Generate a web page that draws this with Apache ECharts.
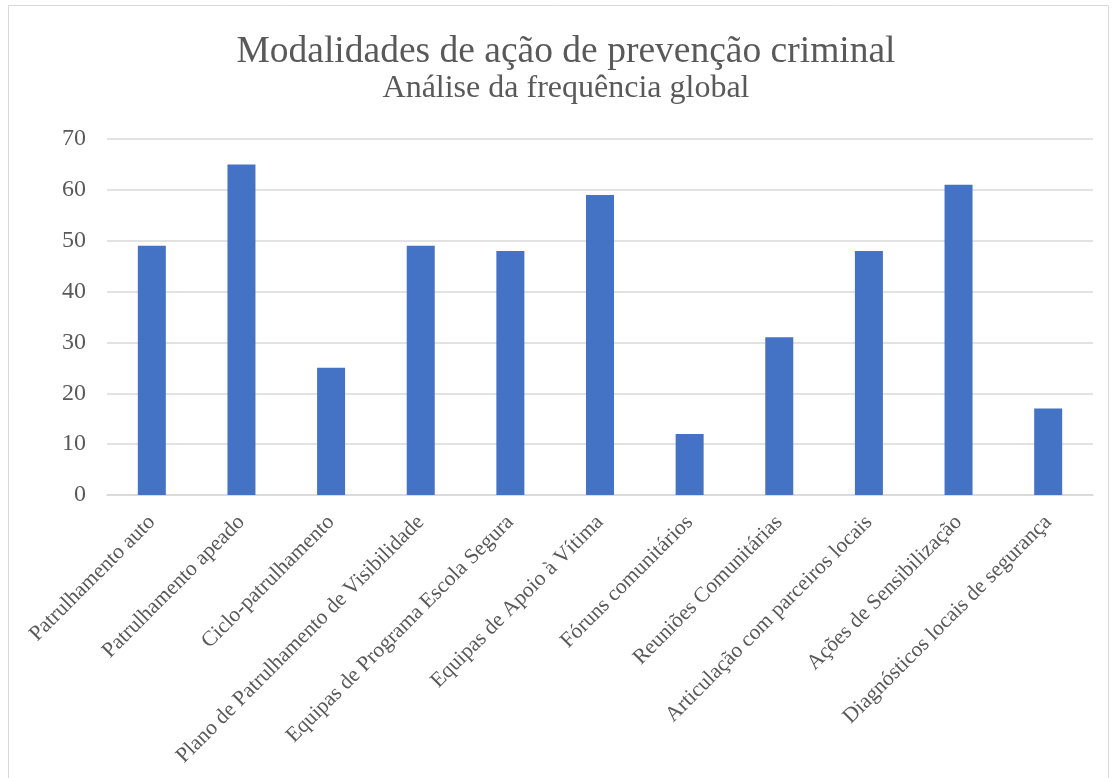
<!DOCTYPE html>
<html><head><meta charset="utf-8">
<script src="https://cdn.jsdelivr.net/npm/echarts@6/dist/echarts.min.js"></script>
<style>html,body{margin:0;padding:0;background:#fff}#c{width:1115px;height:778px}</style>
</head><body><div id="c"></div>
<script>
const categories = ["Patrulhamento auto","Patrulhamento apeado","Ciclo-patrulhamento","Plano de Patrulhamento de Visibilidade","Equipas de Programa Escola Segura","Equipas de Apoio à Vítima","Fóruns comunitários","Reuniões Comunitárias","Articulação com parceiros locais","Ações de Sensibilização","Diagnósticos locais de segurança"];
const values = [49,65,25,49,48,59,12,31,48,61,17];
const titleText = "Modalidades de ação de prevenção criminal";
const subtitleText = "Análise da frequência global";
const font = "'Liberation Serif','Times New Roman',serif";
const chart = echarts.init(document.getElementById('c'));
chart.setOption({
  animation:false,
  backgroundColor:'#fff',
  graphic:[{type:'rect',shape:{x:8.5,y:5.5,width:1100,height:790},style:{fill:'none',stroke:'#d9d9d9',lineWidth:1},silent:true}],
  title:{text:titleText,subtext:subtitleText,left:561,textAlign:'center',top:28,itemGap:2,
    textStyle:{fontFamily:font,fontSize:37.5,fontWeight:'normal',color:'#595959'},
    subtextStyle:{fontFamily:font,fontSize:32,color:'#595959'}},
  grid:{left:107,right:22,top:139,bottom:283,containLabel:false},
  xAxis:{type:'category',data:categories,
    axisLine:{lineStyle:{color:'#d9d9d9',width:1.5}},axisTick:{show:false},
    axisLabel:{rotate:45,interval:0,margin:24,fontFamily:font,fontSize:21.5,color:'#595959'}},
  yAxis:{type:'value',min:0,max:70,interval:10,
    axisLine:{show:false},axisTick:{show:false},
    splitLine:{lineStyle:{color:'#d9d9d9',width:1.5}},
    axisLabel:{margin:21,fontFamily:font,fontSize:24,color:'#595959'}},
  series:[{type:'bar',data:values,barWidth:28,itemStyle:{color:'#4472c4'}}]
});
</script></body></html>
